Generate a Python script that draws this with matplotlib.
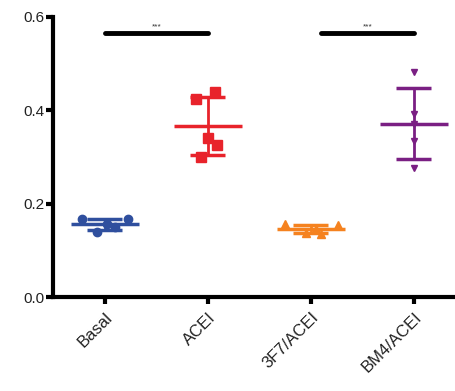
import numpy as np
import matplotlib
matplotlib.use('Agg')
import matplotlib.pyplot as plt

plt.rcParams['font.family'] = ['Liberation Sans', 'DejaVu Sans']

# values (column scatter with mean +/- SD)
groups = ['Basal', 'ACEI', '3F7/ACEI', 'BM4/ACEI']
basal = [0.167, 0.168, 0.157, 0.150, 0.140]
acei = [0.440, 0.425, 0.340, 0.325, 0.300]
f37_acei = [0.156, 0.155, 0.146, 0.138, 0.136]
bm4_acei = [0.482, 0.392, 0.370, 0.335, 0.276]
y_ticks = [0.0, 0.2, 0.4, 0.6]
sig_pairs = [(1, 2), (3.1, 4.0)]
sig_labels = ['***', '***']

# horizontal spread of the points inside each column
spreads = [
    [-0.22, 0.22, 0.02, 0.10, -0.08],
    [0.07, -0.12, 0.00, 0.09, -0.07],
    [-0.25, 0.26, 0.05, -0.05, 0.10],
    [0.0, 0.0, 0.0, 0.0, 0.0],
]
colors = ['#2F4F9E', '#E8232B', '#F5821F', '#7A1F83']
markers = ['o', 's', '^', 'v']
sizes = [6, 6.5, 6, 5]

fig = plt.figure(figsize=(4.56, 3.91), dpi=100)
ax = fig.add_axes([0.116, 0.240, 0.884, 0.717])

data = [basal, acei, f37_acei, bm4_acei]
for i, vals in enumerate(data):
    pos = i + 1
    vals = np.array(vals)
    mean = vals.mean()
    sd = vals.std(ddof=1)
    ax.plot(pos + np.array(spreads[i]), vals, linestyle='none', marker=markers[i],
            color=colors[i], ms=sizes[i], zorder=2)
    ax.hlines(mean, pos - 0.33, pos + 0.33, color=colors[i], lw=2.5, zorder=3)
    ax.vlines(pos, mean - sd, mean + sd, color=colors[i], lw=2, zorder=3)
    ax.hlines([mean - sd, mean + sd], pos - 0.17, pos + 0.17, color=colors[i], lw=2.5, zorder=3)

for (a, b), lab in zip(sig_pairs, sig_labels):
    ax.plot([a, b], [0.566, 0.566], color='black', lw=3.5, solid_capstyle='round')
    ax.text((a + b) / 2, 0.571, lab, ha='center', va='bottom', fontsize=6, color='#333333')

ax.set_xlim(0.495, 4.41)
ax.set_ylim(0, 0.6)
ax.set_yticks(y_ticks)
ax.set_yticklabels([f'{t:.1f}' for t in y_ticks], fontsize=11, color='#222222')
ax.set_xticks(range(1, len(groups) + 1))
ax.set_xticklabels(groups, rotation=45, ha='right', rotation_mode='anchor', fontsize=12,
                   color='#222222')

for side in ['top', 'right']:
    ax.spines[side].set_visible(False)
for side in ['left', 'bottom']:
    ax.spines[side].set_linewidth(3)
ax.tick_params(width=3, length=5, direction='out', pad=1)
ax.tick_params(axis='x', pad=4)

fig.savefig('out.png', dpi=100)
